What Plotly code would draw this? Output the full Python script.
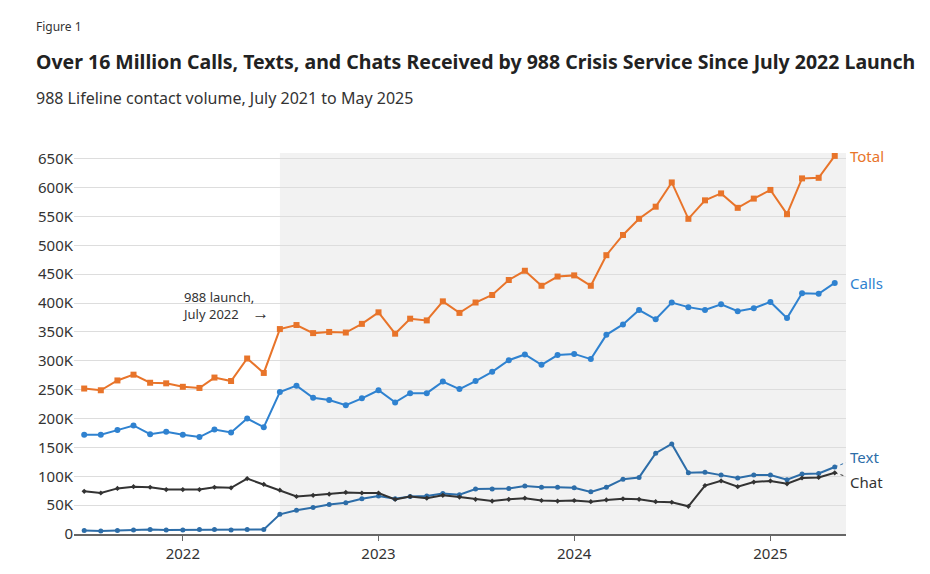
import plotly.graph_objects as go
import pandas as pd

months = pd.date_range("2021-07-01", "2025-05-01", freq="MS")

total = [252,249,266,276,262,261,255,253,271,265,304,279,
         355,362,348,350,349,364,384,347,373,370,403,383,
         401,414,440,456,430,446,448,430,
         483,518,546,567,609,546,578,590,565,581,
         596,554,616,617,655]
calls = [172,172,180,188,173,177,172,168,181,176,200,185,
         246,257,236,232,223,235,249,228,244,244,264,251,
         265,281,301,311,293,310,312,303,
         345,363,388,372,401,393,388,398,386,391,
         402,374,417,416,435]
text = [6,5,6,7,8,7,7,8,8,7,8,8,
        34,41,46,51,54,61,66,61,65,66,70,68,
        78,78,79,83,81,81,80,73,
        81,95,98,140,156,106,107,102,97,102,
        102,94,104,105,116]
chat = [74,71,79,82,81,77,77,77,81,80,96,86,
        76,65,67,69,72,71,71,60,65,62,67,64,
        60,57,60,62,58,57,58,56,
        59,61,60,56,55,48,84,92,82,90,
        92,87,97,98,106]

series = [
    ("Total", total, "#E8742A", "square", 6),
    ("Calls", calls, "#2F82D0", "circle", 6),
    ("Text", text, "#2D6DA8", "circle", 5),
    ("Chat", chat, "#333333", "diamond", 4),
]

FONT = "Noto Sans"
fig = go.Figure()
for name, vals, col, sym, sz in series:
    fig.add_trace(go.Scatter(
        x=months, y=[v * 1000 for v in vals], mode="lines+markers", name=name,
        line=dict(color=col, width=2), marker=dict(color=col, symbol=sym, size=sz),
        hoverinfo="x+y"))

fig.add_vrect(x0="2022-07-01", x1="2025-05-22", fillcolor="#F2F2F2",
              line_width=0, layer="below")

last = months[-1]
label_y = {"Total": (655, 655), "Calls": (435, 435), "Text": (116, 134), "Chat": (106, 90)}
for name, vals, col, sym, sz in series:
    yv, yl = label_y[name]
    fig.add_annotation(x=1.0, xref="paper", xshift=2, y=yl * 1000, yref="y",
                       text=name, showarrow=False, xanchor="left",
                       font=dict(family=FONT, size=15, color=col))
    if name in ("Text", "Chat"):
        fig.add_shape(type="line", xref="x", yref="y", x0=last, y0=yv * 1000,
                      x1="2025-05-28", y1=(yl + (-8 if name == "Text" else 8)) * 1000,
                      line=dict(color=col, width=1, dash="dot"))

fig.add_annotation(x="2022-06-15", y=395000, xref="x", yref="y",
                   text="988 launch,<br>July 2022    <span style='font-size:17px'>\u2192</span>",
                   showarrow=False, xanchor="right", align="left",
                   font=dict(family=FONT, size=13, color="#333"))

fig.add_annotation(x=0, xref="paper", y=1, yref="paper", yanchor="bottom", yshift=116, xshift=-40,
                   text="Figure 1", showarrow=False, xanchor="left",
                   font=dict(family=FONT, size=12, color="#333"))
fig.add_annotation(x=0, xref="paper", y=1, yref="paper", yanchor="bottom", yshift=76, xshift=-40,
                   text="<b>Over 16 Million Calls, Texts, and Chats Received by 988 Crisis Service Since July 2022 Launch</b>",
                   showarrow=False, xanchor="left",
                   font=dict(family=FONT, size=19.5, color="#222"))
fig.add_annotation(x=0, xref="paper", y=1, yref="paper", yanchor="bottom", yshift=42, xshift=-40,
                   text="988 Lifeline contact volume, July 2021 to May 2025",
                   showarrow=False, xanchor="left",
                   font=dict(family=FONT, size=16, color="#333"))

fig.update_layout(
    width=930, height=574, showlegend=False,
    paper_bgcolor="white", plot_bgcolor="white",
    margin=dict(l=66, r=92, t=145, b=48, autoexpand=False),
    font=dict(family=FONT, size=15, color="#333"),
    xaxis=dict(type="date", range=["2021-06-12", "2025-05-22"], showgrid=False,
               tickvals=["2022-01-01", "2023-01-01", "2024-01-01", "2025-01-01"],
               ticktext=["2022", "2023", "2024", "2025"], automargin=False,
               ticks="outside", ticklen=5, tickcolor="#666",
               showline=True, linecolor="#666", linewidth=1.5, zeroline=False),
    yaxis=dict(range=[0, 660000], tickvals=[i * 50000 for i in range(14)],
               ticktext=["0"] + [f"{i*50}K" for i in range(1, 14)], automargin=False,
               gridcolor="#DDDDDD", zeroline=False, ticks=""),
)
fig.write_html("out.html")
